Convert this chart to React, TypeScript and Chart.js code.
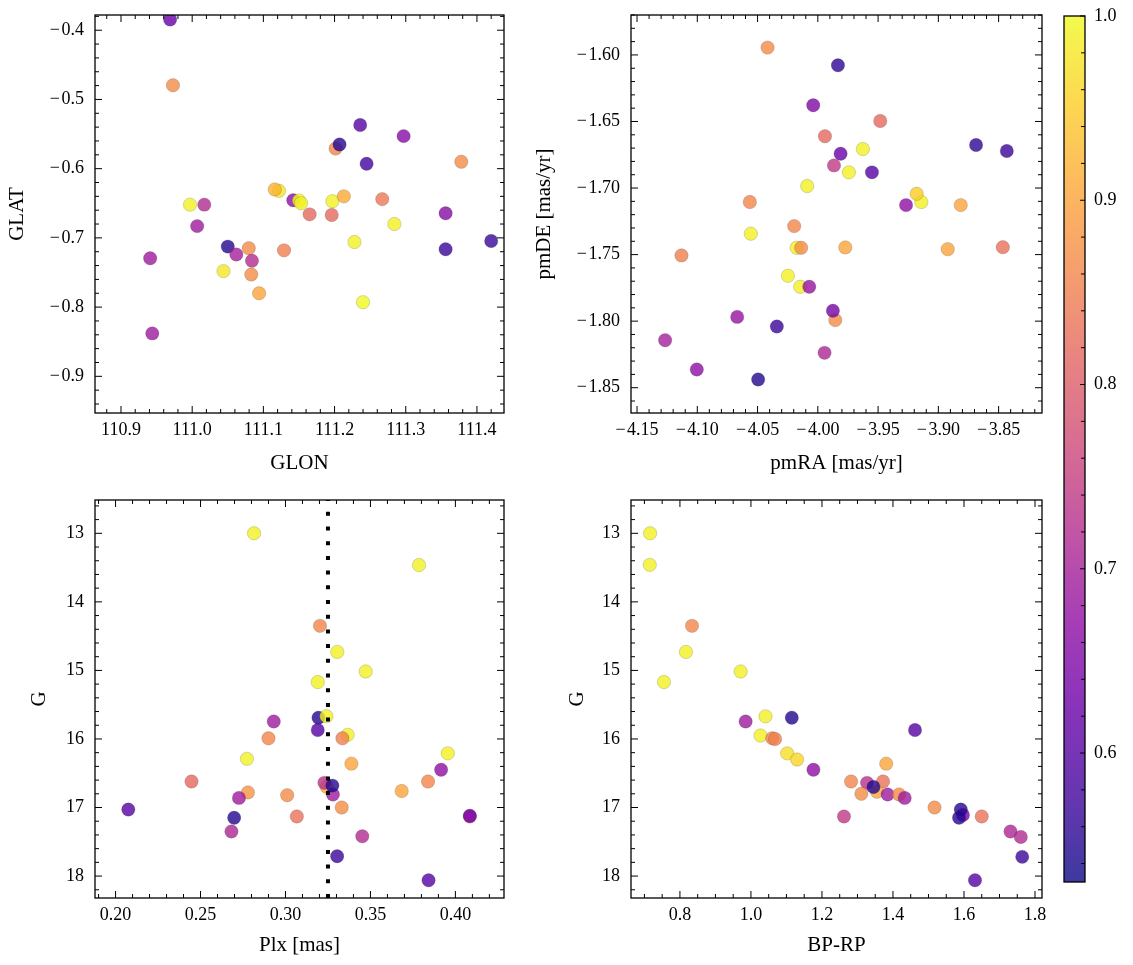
import React, { useEffect, useRef } from "react";
import { Chart, registerables } from "chart.js";

Chart.register(...registerables);

const FONT = "'Liberation Serif', 'Times New Roman', serif";
const TICK_SIZE = 18;
const TITLE_SIZE = 21;

// ---------- Panel 1: GLON / GLAT ----------
const glon = [110.969, 110.973, 111.236, 111.297, 111.2015, 111.207, 111.245, 111.378, 111.122, 111.116, 111.142, 111.150, 111.153, 111.197, 111.213, 111.267, 110.997, 111.017, 111.165, 111.196, 111.356, 111.284, 111.007, 111.420, 111.228, 111.050, 111.0795, 111.129, 111.356, 111.062, 110.941, 111.084, 111.044, 111.083, 111.094, 111.240, 110.944];
const glat = [-0.3845, -0.4795, -0.537, -0.553, -0.571, -0.565, -0.593, -0.590, -0.632, -0.630, -0.6457, -0.646, -0.650, -0.647, -0.640, -0.644, -0.652, -0.652, -0.666, -0.667, -0.6645, -0.680, -0.683, -0.7045, -0.706, -0.7126, -0.715, -0.718, -0.7165, -0.724, -0.7295, -0.733, -0.748, -0.753, -0.780, -0.793, -0.838];
const prob1 = [0.62, 0.87, 0.60, 0.66, 0.86, 0.55, 0.58, 0.87, 0.98, 0.92, 0.67, 1.0, 0.99, 0.99, 0.91, 0.84, 0.99, 0.72, 0.82, 0.82, 0.66, 0.99, 0.69, 0.57, 0.99, 0.55, 0.87, 0.85, 0.57, 0.70, 0.69, 0.72, 0.98, 0.87, 0.90, 1.0, 0.69];

// ---------- Panel 2: pmRA / pmDE ----------
const pmra = [-4.0417, -3.9833, -4.0038, -3.9482, -3.9941, -3.8687, -3.8432, -3.9626, -3.9811, -3.9866, -3.9742, -3.9551, -4.0088, -3.9141, -3.918, -3.9268, -3.8814, -4.0564, -4.0196, -4.0556, -4.1131, -4.0176, -4.0138, -3.9772, -3.8922, -3.8465, -4.0248, -4.0146, -4.0071, -3.9855, -3.9875, -4.0669, -4.034, -4.1267, -3.9944, -4.1004, -4.0495];
const pmde = [-1.5945, -1.6078, -1.6378, -1.6496, -1.6611, -1.6677, -1.6722, -1.6707, -1.6742, -1.6830, -1.6882, -1.6882, -1.6985, -1.7105, -1.7043, -1.7128, -1.7128, -1.7105, -1.7286, -1.7343, -1.7506, -1.7449, -1.7449, -1.7446, -1.7459, -1.7444, -1.7659, -1.7742, -1.7742, -1.7992, -1.7922, -1.7968, -1.804, -1.8143, -1.8238, -1.8363, -1.8438];
const prob2 = [0.87, 0.56, 0.65, 0.82, 0.82, 0.56, 0.57, 0.99, 0.62, 0.74, 0.99, 0.60, 0.99, 0.99, 0.95, 0.67, 0.90, 0.86, 0.86, 0.99, 0.85, 0.99, 0.87, 0.90, 0.90, 0.83, 0.99, 0.99, 0.68, 0.87, 0.64, 0.68, 0.57, 0.70, 0.71, 0.67, 0.55];

// ---------- Panel 3: Plx / G ----------
const plx = [0.2815, 0.3786, 0.3203, 0.3305, 0.3472, 0.3190, 0.3194, 0.3241, 0.2931, 0.3190, 0.3366, 0.3335, 0.2900, 0.2773, 0.3955, 0.3388, 0.3916, 0.2447, 0.3839, 0.3243, 0.3229, 0.3279, 0.3276, 0.3684, 0.2779, 0.3010, 0.2726, 0.2075, 0.3331, 0.3067, 0.4085, 0.4085, 0.2698, 0.2682, 0.3452, 0.3304, 0.3842];
const gPlx = [13.0, 13.463, 14.35, 14.73, 15.015, 15.17, 15.69, 15.667, 15.745, 15.87, 15.94, 15.99, 15.99, 16.29, 16.21, 16.36, 16.45, 16.62, 16.62, 16.70, 16.64, 16.81, 16.68, 16.76, 16.78, 16.82, 16.86, 17.03, 17.0, 17.13, 17.13, 17.12, 17.15, 17.35, 17.42, 17.71, 18.06];
const prob3 = [0.99, 0.99, 0.86, 0.99, 0.99, 0.99, 0.55, 0.99, 0.69, 0.60, 0.99, 0.85, 0.86, 0.99, 0.99, 0.90, 0.67, 0.82, 0.86, 0.90, 0.73, 0.69, 0.55, 0.90, 0.88, 0.87, 0.69, 0.60, 0.87, 0.83, 0.74, 0.64, 0.55, 0.71, 0.72, 0.57, 0.60];
const plxRef = 0.325;

// ---------- Panel 4: BP-RP / G ----------
const bprp = [0.716, 0.715, 0.834, 0.817, 0.971, 0.755, 1.041, 1.115, 0.985, 1.462, 1.027, 1.060, 1.068, 1.102, 1.130, 1.381, 1.176, 1.282, 1.372, 1.327, 1.355, 1.311, 1.345, 1.385, 1.417, 1.433, 1.517, 1.262, 1.597, 1.591, 1.586, 1.650, 1.731, 1.760, 1.764, 1.631];
const gCmd = [13.0, 13.46, 14.35, 14.73, 15.015, 15.17, 15.67, 15.69, 15.745, 15.87, 15.95, 15.99, 16.0, 16.21, 16.30, 16.36, 16.45, 16.62, 16.62, 16.64, 16.77, 16.80, 16.70, 16.81, 16.81, 16.86, 17.0, 17.13, 17.11, 17.03, 17.15, 17.13, 17.35, 17.43, 17.72, 18.06];
const prob4 = [0.99, 0.99, 0.86, 0.99, 0.99, 0.99, 0.99, 0.55, 0.69, 0.60, 0.99, 0.86, 0.85, 0.97, 0.96, 0.90, 0.67, 0.86, 0.83, 0.73, 0.90, 0.87, 0.55, 0.69, 0.87, 0.69, 0.87, 0.74, 0.64, 0.55, 0.55, 0.83, 0.71, 0.72, 0.57, 0.60];

// ---------- Axis ranges and tick labels ----------
const glonRange = [110.8635, 111.438];
const glatRange = [-0.953, -0.378];
const pmraRange = [-4.155, -3.814];
const pmdeRange = [-1.869, -1.57];
const plxRange = [0.1879, 0.4286];
const bprpRange = [0.6622, 1.8197];
const gRange = [12.514, 18.32];
const probMin = 0.53;
const probMax = 1.0;

const glonTicks = [110.9, 111.0, 111.1, 111.2, 111.3, 111.4];
const glatTicks = [-0.9, -0.8, -0.7, -0.6, -0.5, -0.4];
const pmraTicks = [-4.15, -4.1, -4.05, -4.0, -3.95, -3.9, -3.85];
const pmdeTicks = [-1.85, -1.8, -1.75, -1.7, -1.65, -1.6];
const plxTicks = [0.2, 0.25, 0.3, 0.35, 0.4];
const bprpTicks = [0.8, 1.0, 1.2, 1.4, 1.6, 1.8];
const gTicks = [13, 14, 15, 16, 17, 18];
const probTicks = [0.6, 0.7, 0.8, 0.9, 1.0];

// ---------- colour map (plasma) ----------
const PLASMA = ["#0d0887", "#41049d", "#6a00a8", "#8f0da4", "#b12a90", "#cc4778", "#e16462", "#f2844b", "#fca636", "#fcce25", "#f0f921"];
const ALPHA = 0.8;

function hexRgb(h: string): number[] {
  return [parseInt(h.slice(1, 3), 16), parseInt(h.slice(3, 5), 16), parseInt(h.slice(5, 7), 16)];
}
function plasma(t: number): number[] {
  const tt = Math.min(1, Math.max(0, t)) * (PLASMA.length - 1);
  const i = Math.min(PLASMA.length - 2, Math.floor(tt));
  const f = tt - i;
  const a = hexRgb(PLASMA[i]);
  const b = hexRgb(PLASMA[i + 1]);
  return a.map((v, k) => Math.round(v + (b[k] - v) * f));
}
function probColor(p: number): string {
  const [r, g, b] = plasma((p - probMin) / (probMax - probMin));
  return `rgba(${r},${g},${b},${ALPHA})`;
}
const fmt = (dec: number) => (v: number) => (v < 0 ? "\u2212\u200A" : "") + Math.abs(v).toFixed(dec);

// ---------- plugin: frame, inward ticks, colour bar gradient ----------
const frameTicks = {
  id: "frameTicks",
  beforeDatasetsDraw(chart: any, _a: any, opts: any) {
    if (!opts || !opts.gradient) return;
    const { ctx, chartArea: a, scales } = chart;
    const ys = scales.y;
    const g = ctx.createLinearGradient(0, ys.getPixelForValue(ys.min), 0, ys.getPixelForValue(ys.max));
    PLASMA.forEach((c, i) => g.addColorStop(i / (PLASMA.length - 1), c));
    ctx.save();
    ctx.globalAlpha = ALPHA;
    ctx.fillStyle = g;
    ctx.fillRect(a.left, a.top, a.right - a.left, a.bottom - a.top);
    ctx.restore();
  },
  afterDatasetsDraw(chart: any, _a: any, opts: any) {
    if (!opts || !opts.enabled) return;
    const { ctx, chartArea: a, scales } = chart;
    const minorVals = (scale: any, step: number) => {
      const majors = scale.ticks.map((t: any) => t.value);
      const out: number[] = [];
      const start = Math.ceil((scale.min - 1e-9) / step);
      for (let k = start; k * step <= scale.max + 1e-9; k++) {
        const v = k * step;
        if (!majors.some((m: number) => Math.abs(m - v) < step * 0.01)) out.push(v);
      }
      return out;
    };
    const draw = (scale: any, vals: number[], len: number, sides: string[]) => {
      ctx.beginPath();
      for (const v of vals) {
        const p = scale.getPixelForValue(v);
        for (const s of sides) {
          if (s === "bottom") { ctx.moveTo(p, a.bottom); ctx.lineTo(p, a.bottom - len); }
          if (s === "top") { ctx.moveTo(p, a.top); ctx.lineTo(p, a.top + len); }
          if (s === "left") { ctx.moveTo(a.left, p); ctx.lineTo(a.left + len, p); }
          if (s === "right") { ctx.moveTo(a.right, p); ctx.lineTo(a.right - len, p); }
        }
      }
      ctx.stroke();
    };
    ctx.save();
    ctx.strokeStyle = "#000";
    ctx.lineWidth = 1;
    const majLen = opts.majLen || 7;
    const minLen = opts.minLen || 4;
    if (opts.xSides && opts.xSides.length) {
      const xs = scales.x;
      draw(xs, xs.ticks.map((t: any) => t.value), majLen, opts.xSides);
      draw(xs, minorVals(xs, opts.xMinor), minLen, opts.xSides);
    }
    if (opts.ySides && opts.ySides.length) {
      const ys = scales.y;
      draw(ys, ys.ticks.map((t: any) => t.value), majLen, opts.ySides);
      draw(ys, minorVals(ys, opts.yMinor), minLen, opts.ySides);
    }
    ctx.lineWidth = 1.3;
    ctx.strokeRect(a.left, a.top, a.right - a.left, a.bottom - a.top);
    ctx.restore();
  },
};
Chart.register(frameTicks);

// ---------- panel layout ----------
interface AxisCfg {
  range: number[];
  ticks: number[];
  dec: number;
  minor: number;
  title: string;
  tickPad: number;
  titlePad: number;
  reverse?: boolean;
}
interface PanelCfg {
  box: { left: number; top: number; width: number; height: number };
  area: { l: number; t: number; r: number; b: number };
  x: AxisCfg;
  y: AxisCfg;
  datasets: any[];
}

function scatterSet(xs: number[], ys: number[], ps: number[]) {
  return {
    type: "scatter",
    data: xs.map((x, i) => ({ x, y: ys[i] })),
    backgroundColor: ps.map(probColor),
    borderColor: "rgba(40,40,40,0.35)",
    borderWidth: 0.5,
    pointRadius: 6.7,
    pointHoverRadius: 6.7,
    clip: 0,
    order: 0,
  };
}

const PANELS: PanelCfg[] = [
  {
    box: { left: 0, top: 0, width: 540, height: 490 },
    area: { l: 95, t: 15, r: 504, b: 413 },
    x: { range: glonRange, ticks: glonTicks, dec: 1, minor: 0.02, title: "GLON", tickPad: 6, titlePad: 14 },
    y: { range: glatRange, ticks: glatTicks, dec: 1, minor: 0.02, title: "GLAT", tickPad: 11, titlePad: 5 },
    datasets: [scatterSet(glon, glat, prob1)],
  },
  {
    box: { left: 520, top: 0, width: 540, height: 490 },
    area: { l: 111, t: 15, r: 522, b: 413 },
    x: { range: pmraRange, ticks: pmraTicks, dec: 2, minor: 0.01, title: "pmRA [mas/yr]", tickPad: 6, titlePad: 14 },
    y: { range: pmdeRange, ticks: pmdeTicks, dec: 2, minor: 0.01, title: "pmDE [mas/yr]", tickPad: 11, titlePad: 12 },
    datasets: [scatterSet(pmra, pmde, prob2)],
  },
  {
    box: { left: 0, top: 490, width: 540, height: 475 },
    area: { l: 95, t: 10, r: 504, b: 408 },
    x: { range: plxRange, ticks: plxTicks, dec: 2, minor: 0.01, title: "Plx [mas]", tickPad: 6, titlePad: 7 },
    y: { range: gRange, ticks: gTicks, dec: 0, minor: 0.2, title: "G", tickPad: 11, titlePad: 27, reverse: true },
    datasets: [
      {
        type: "scatter",
        showLine: true,
        data: [{ x: plxRef, y: gRange[1] }, { x: plxRef, y: gRange[0] }],
        borderColor: "#000",
        borderWidth: 4,
        borderDash: [4, 10.7],
        borderCapStyle: "butt",
        pointRadius: 0,
        pointHoverRadius: 0,
        order: -1,
      },
      scatterSet(plx, gPlx, prob3),
    ],
  },
  {
    box: { left: 520, top: 490, width: 540, height: 475 },
    area: { l: 111, t: 10, r: 522, b: 408 },
    x: { range: bprpRange, ticks: bprpTicks, dec: 1, minor: 0.05, title: "BP-RP", tickPad: 6, titlePad: 7 },
    y: { range: gRange, ticks: gTicks, dec: 0, minor: 0.2, title: "G", tickPad: 11, titlePad: 45, reverse: true },
    datasets: [scatterSet(bprp, gCmd, prob4)],
  },
];

function zeroPadding(s: any) {
  s.paddingTop = 0;
  s.paddingBottom = 0;
  s.paddingLeft = 0;
  s.paddingRight = 0;
}

function axisOptions(ax: AxisCfg, horizontal: boolean, size: number) {
  return {
    type: "linear",
    position: horizontal ? "bottom" : "left",
    min: ax.range[0],
    max: ax.range[1],
    reverse: !!ax.reverse,
    afterBuildTicks: (s: any) => {
      s.ticks = ax.ticks.map((v) => ({ value: v }));
    },
    afterFit: (s: any) => {
      if (horizontal) s.height = size;
      else s.width = size;
      zeroPadding(s);
    },
    grid: { display: false, drawTicks: false },
    border: { display: false },
    ticks: {
      color: "#000",
      font: { family: FONT, size: TICK_SIZE },
      padding: ax.tickPad,
      autoSkip: false,
      maxRotation: 0,
      minRotation: 0,
      callback: (v: any) => fmt(ax.dec)(Number(v)),
    },
    title: {
      display: true,
      text: ax.title,
      color: "#000",
      font: { family: FONT, size: TITLE_SIZE },
      padding: horizontal ? { top: 0, bottom: ax.titlePad } : { top: ax.titlePad, bottom: 0 },
    },
  };
}

function panelConfig(p: PanelCfg): any {
  return {
    type: "scatter",
    data: { datasets: p.datasets },
    options: {
      responsive: false,
      animation: false,
      devicePixelRatio: 1,
      events: [],
      layout: { padding: { left: 0, top: p.area.t, right: p.box.width - p.area.r, bottom: 0 } },
      plugins: {
        legend: { display: false },
        tooltip: { enabled: false },
        frameTicks: {
          enabled: true,
          xSides: ["top", "bottom"],
          ySides: ["left", "right"],
          xMinor: p.x.minor,
          yMinor: p.y.minor,
          majLen: 7,
          minLen: 4,
        },
      },
      scales: {
        x: axisOptions(p.x, true, p.box.height - p.area.b),
        y: axisOptions(p.y, false, p.area.l),
      },
    },
  };
}

const CB_BOX = { left: 1050, top: 0, width: 83, height: 965 };
const CB_AREA = { l: 14, t: 16, r: 35, b: 882 };

function colorbarConfig(): any {
  return {
    type: "scatter",
    data: { datasets: [{ data: [] }] },
    options: {
      responsive: false,
      animation: false,
      devicePixelRatio: 1,
      events: [],
      layout: { padding: { left: CB_AREA.l, top: CB_AREA.t, right: 0, bottom: CB_BOX.height - CB_AREA.b } },
      plugins: {
        legend: { display: false },
        tooltip: { enabled: false },
        frameTicks: { enabled: true, gradient: true, xSides: [], ySides: ["right"], yMinor: 0.02, majLen: 5, minLen: 4 },
      },
      scales: {
        x: { type: "linear", display: false, min: 0, max: 1 },
        y: {
          type: "linear",
          position: "right",
          min: probMin,
          max: probMax,
          afterBuildTicks: (s: any) => {
            s.ticks = probTicks.map((v) => ({ value: v }));
          },
          afterFit: (s: any) => {
            s.width = CB_BOX.width - CB_AREA.r;
            zeroPadding(s);
          },
          grid: { display: false, drawTicks: false },
          border: { display: false },
          ticks: {
            color: "#000",
            font: { family: FONT, size: TICK_SIZE },
            padding: 9,
            autoSkip: false,
            callback: (v: any) => fmt(1)(Number(v)),
          },
        },
      },
    },
  };
}

export default function App() {
  const panelRefs = useRef<(HTMLCanvasElement | null)[]>([]);
  const cbRef = useRef<HTMLCanvasElement | null>(null);

  useEffect(() => {
    const charts: Chart[] = [];
    PANELS.forEach((p, i) => {
      const c = panelRefs.current[i];
      if (c) charts.push(new Chart(c, panelConfig(p)));
    });
    if (cbRef.current) charts.push(new Chart(cbRef.current, colorbarConfig()));
    return () => charts.forEach((c) => c.destroy());
  }, []);

  return (
    <div style={{ position: "absolute", left: 0, top: 0, width: 1133, height: 965, background: "#fff", overflow: "hidden" }}>
      {PANELS.map((p, i) => (
        <canvas
          key={i}
          ref={(el) => {
            panelRefs.current[i] = el;
          }}
          width={p.box.width}
          height={p.box.height}
          style={{ position: "absolute", left: p.box.left, top: p.box.top, width: p.box.width, height: p.box.height }}
        />
      ))}
      <canvas
        ref={cbRef}
        width={CB_BOX.width}
        height={CB_BOX.height}
        style={{ position: "absolute", left: CB_BOX.left, top: CB_BOX.top, width: CB_BOX.width, height: CB_BOX.height }}
      />
    </div>
  );
}
